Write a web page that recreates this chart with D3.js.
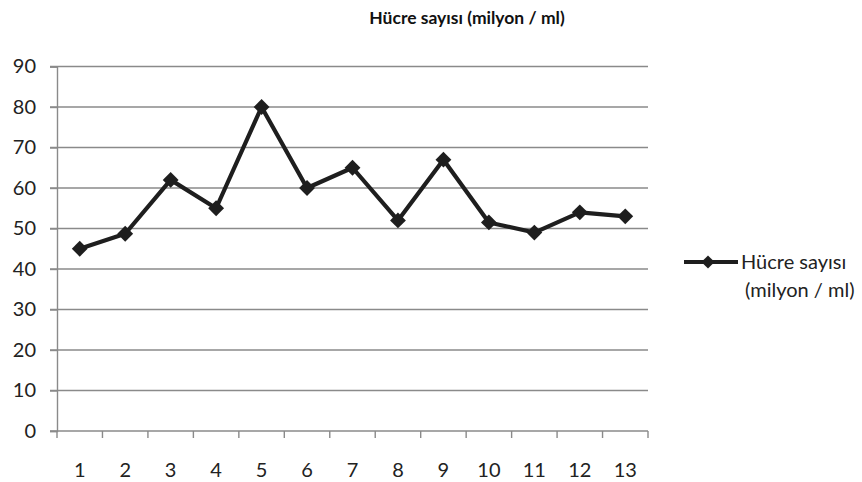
<!DOCTYPE html>
<html>
<head>
<meta charset="utf-8">
<script src="https://cdn.jsdelivr.net/npm/d3@7"></script>
<style>
  body { margin: 0; background: #fff; }
  svg { display: block; font-family: Lato, "Open Sans", sans-serif; }
</style>
</head>
<body>
<svg id="chart" width="862" height="482"></svg>
<script>
const categories = ["1","2","3","4","5","6","7","8","9","10","11","12","13"];
const cellCounts = [45, 48.7, 62, 55, 80, 60, 65, 52, 67, 51.5, 49, 54, 53];
const yTicks = [0, 10, 20, 30, 40, 50, 60, 70, 80, 90];
const seriesName = ["Hücre sayısı", "(milyon / ml)"];
const chartTitle = "Hücre sayısı (milyon / ml)";

const svg = d3.select("#chart");
const plot = { left: 57, right: 648, top: 66.5, bottom: 431 };

const x = d3.scaleBand().domain(categories).range([plot.left, plot.right]);
const y = d3.scaleLinear().domain([0, 90]).range([plot.bottom, plot.top]);

// title
svg.append("text")
  .attr("x", 467).attr("y", 24)
  .attr("text-anchor", "middle")
  .attr("font-weight", "bold")
  .attr("font-size", 17.5)
  .attr("fill", "#111")
  .text(chartTitle);

// horizontal gridlines with small ticks past the axis
svg.append("g").selectAll("line").data(yTicks.filter(d => d > 0)).join("line")
  .attr("x1", plot.left - 7).attr("x2", plot.right)
  .attr("y1", d => y(d)).attr("y2", d => y(d))
  .attr("stroke", "#8a8a8a").attr("stroke-width", 1.4);

// y axis
const yAxis = svg.append("g")
  .attr("transform", `translate(${plot.left},0)`)
  .call(d3.axisLeft(y).tickValues(yTicks).tickSize(7).tickPadding(14));
yAxis.select(".domain").attr("stroke", "#8a8a8a").attr("stroke-width", 1.4);
yAxis.selectAll(".tick line").attr("stroke", "#8a8a8a").attr("stroke-width", 1.4);
yAxis.selectAll("text").attr("font-size", 20).attr("fill", "#222")
  .attr("font-family", "Lato, 'Open Sans', sans-serif");

// x axis: ticks on category boundaries
const xAxisG = svg.append("g").attr("transform", `translate(0,${plot.bottom})`);
xAxisG.append("line")
  .attr("x1", plot.left - 7).attr("x2", plot.right)
  .attr("stroke", "#8a8a8a").attr("stroke-width", 1.4);
const boundaries = categories.map(c => x(c)).concat([plot.right]);
xAxisG.selectAll("line.tk").data(boundaries).join("line")
  .attr("class", "tk")
  .attr("x1", d => d).attr("x2", d => d)
  .attr("y1", 0).attr("y2", 7)
  .attr("stroke", "#8a8a8a").attr("stroke-width", 1.4);
xAxisG.selectAll("text").data(categories).join("text")
  .attr("x", d => x(d) + x.bandwidth() / 2)
  .attr("y", 46)
  .attr("text-anchor", "middle")
  .attr("font-size", 20).attr("fill", "#222")
  .text(d => d);

// data line
const pts = categories.map((c, i) => [x(c) + x.bandwidth() / 2, y(cellCounts[i])]);
svg.append("path")
  .attr("d", d3.line()(pts))
  .attr("fill", "none")
  .attr("stroke", "#1e1e1e")
  .attr("stroke-width", 4.2)
  .attr("stroke-linejoin", "round");

const diamond = d3.symbol().type(d3.symbolDiamond2).size(160);
svg.append("g").selectAll("path").data(pts).join("path")
  .attr("transform", d => `translate(${d[0]},${d[1]})`)
  .attr("d", diamond)
  .attr("fill", "#1e1e1e");

// legend
const lg = svg.append("g");
lg.append("line")
  .attr("x1", 684).attr("x2", 738).attr("y1", 262).attr("y2", 262)
  .attr("stroke", "#1e1e1e").attr("stroke-width", 4.2);
lg.append("path")
  .attr("transform", "translate(708,262)")
  .attr("d", d3.symbol().type(d3.symbolDiamond2).size(110))
  .attr("fill", "#1e1e1e");
lg.selectAll("text").data(seriesName).join("text")
  .attr("x", (d, i) => i === 0 ? 741 : 745)
  .attr("y", (d, i) => 269 + i * 28)
  .attr("font-size", 20).attr("fill", "#222")
  .text(d => d);
</script>
</body>
</html>
